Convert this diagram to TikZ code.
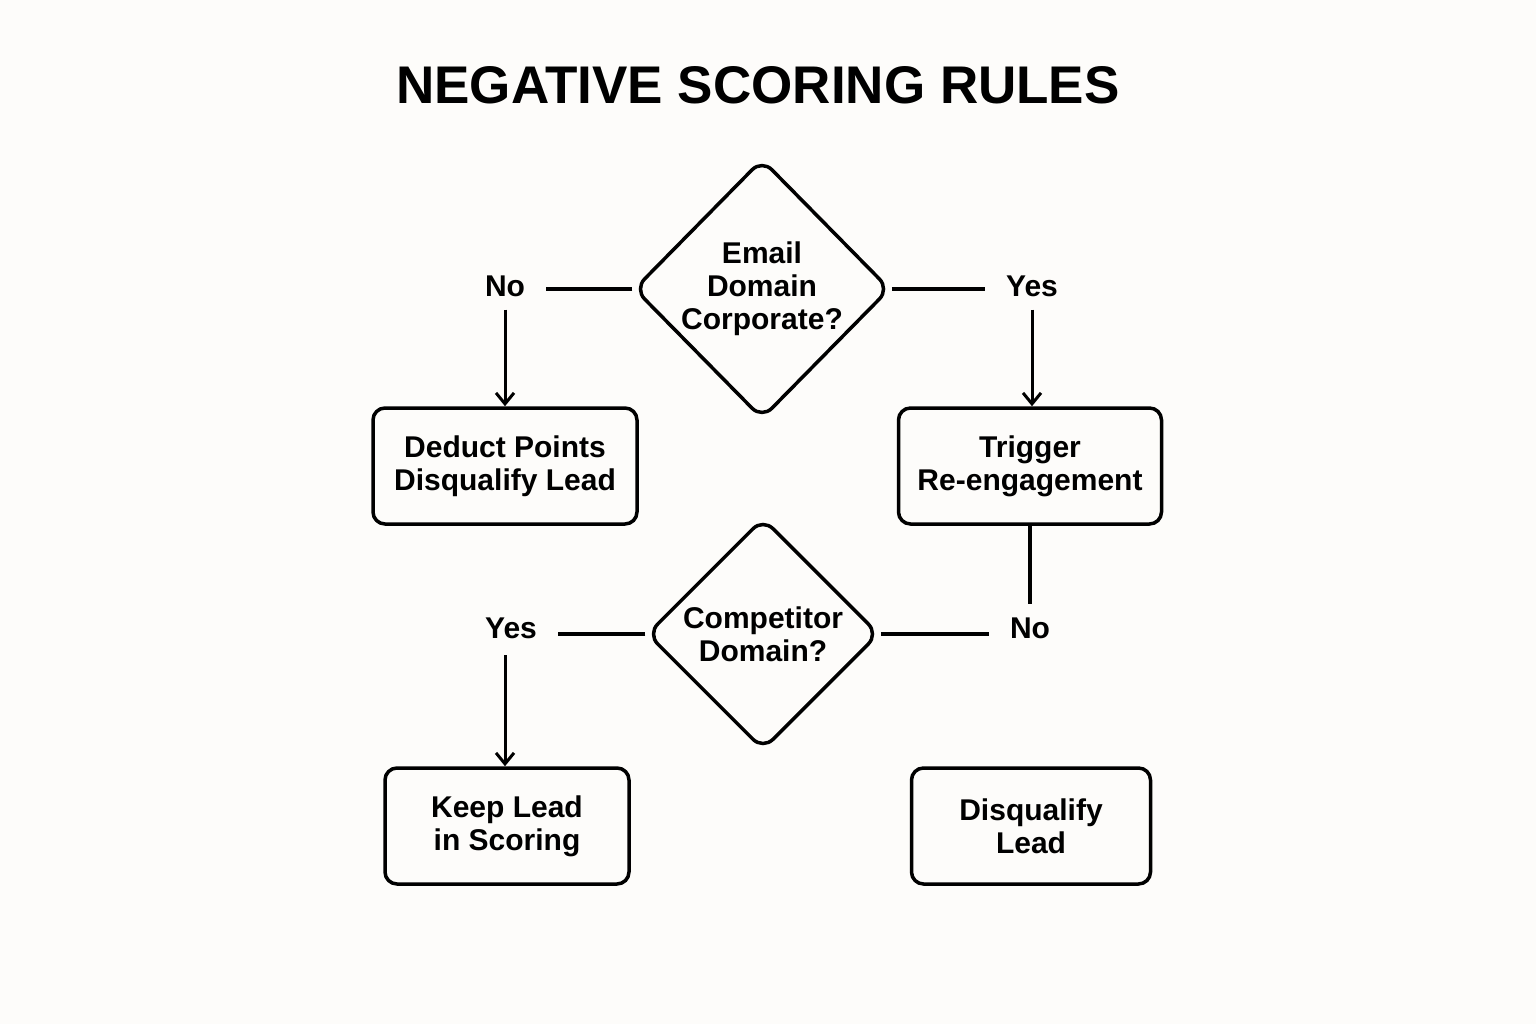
\documentclass[tikz,border=0pt]{standalone}
\usepackage{fontspec}
\setmainfont{Liberation Sans}
\usetikzlibrary{shapes.geometric,arrows.meta}
\begin{document}
\begin{tikzpicture}[x=1pt,y=-1pt,
  every node/.style={font=\fontsize{30}{36}\selectfont\bfseries},
  box/.style={draw,line width=3.5pt,rounded corners=12pt,minimum width=#1,minimum height=116pt,align=center,inner sep=0pt},
  dia/.style={draw,diamond,line width=3.5pt,rounded corners=14pt,align=center,inner sep=0pt},
  lab/.style={inner xsep=21pt,inner ysep=13pt},
  ln/.style={line width=3.5pt},
  arr/.style={line width=3pt,-{Straight Barb[length=11pt,width=18pt,line width=3pt]}}]
\fill[fill={rgb,255:red,253;green,252;blue,250}] (0,0) rectangle (1536,1024);
\useasboundingbox (0,0) rectangle (1536,1024);
\node[font=\fontsize{53}{60}\selectfont\bfseries] (title) at (758,85) {NEGATIVE SCORING RULES};
\node[dia,minimum width=256pt,minimum height=260pt] (d1) at (762,289) {Email\\[-3pt]Domain\\[-3pt]Corporate?};
\node[lab] (no1) at (505,286) {No};
\node[lab] (yes1) at (1032,286) {Yes};
\node[box=264pt] (b1) at (505,466) {Deduct Points\\[-3pt]Disqualify Lead};
\node[box=263pt] (b2) at (1030,466) {Trigger\\[-3pt]Re-engagement};
\node[dia,minimum width=232pt,minimum height=232pt] (d2) at (763,634) {Competitor\\[-3pt]Domain?};
\node[lab] (yes2) at (511,628) {Yes};
\node[lab] (no2) at (1030,628) {No};
\node[box=244pt] (b3) at (507,826) {Keep Lead\\[-3pt]in Scoring};
\node[box=239pt] (b4) at (1031,826) {Disqualify\\[-3pt]Lead};
\coordinate (a3) at (505,655);
\draw[ln] (d1.west) -- (no1.east |- d1.west);
\draw[ln] (d1.east) -- (yes1.west |- d1.east);
\draw[arr] (no1.south) -- (b1.north -| no1.south);
\draw[arr] (yes1.south) -- (b2.north -| yes1.south);
\draw[ln] (b2.south -| no2.north) -- (no2.north);
\draw[ln] (d2.west) -- (yes2.east |- d2.west);
\draw[ln] (d2.east) -- (no2.west |- d2.east);
\draw[arr] (a3) -- (b3.north -| a3);
\end{tikzpicture}
\end{document}
